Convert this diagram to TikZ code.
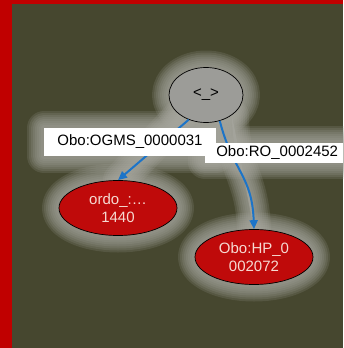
\documentclass[tikz,border=0pt]{standalone}
\usepackage{fontspec}
\setmainfont{Liberation Sans}
\usetikzlibrary{arrows.meta,shapes.geometric}
\definecolor{bgcol}{HTML}{46472F}
\definecolor{framecol}{HTML}{C00000}
\definecolor{halocol}{HTML}{A8A8A0}
\definecolor{rootfill}{HTML}{9C9C98}
\definecolor{leaffill}{HTML}{BF0A0A}
\definecolor{leaftext}{HTML}{F6DAD2}
\definecolor{edgecol}{HTML}{1C74C8}
\tikzset{
  halo/.style={draw=halocol, fill=halocol, line width=#1, opacity=0.17, line join=round, line cap=round},
  rootnode/.style={ellipse, draw=black, line width=0.7pt, fill=rootfill, minimum width=74pt, minimum height=55pt, inner sep=0pt, font=\fontsize{15}{16}\selectfont},
  leaf/.style={ellipse, draw=black, line width=0.7pt, fill=leaffill, minimum width=118pt, minimum height=55pt, inner sep=0pt, align=center, text=leaftext, font=\fontsize{15}{17.5}\selectfont},
  lbl/.style={rectangle, fill=white, inner sep=0pt, text=black, font=\fontsize{15}{16}\selectfont},
  edge/.style={draw=edgecol, line width=2pt, -{Triangle[length=9pt,width=8pt]}},
}
\begin{document}
\begin{tikzpicture}[x=1pt,y=-1pt]
\useasboundingbox (0,0) rectangle (343,348);
\fill[framecol] (0,0) rectangle (343,348);
\fill[bgcol] (12,4) rectangle (343,348);
% halos
\foreach \w in {34,30,26,22,18,14,10,6}{
  \path[halo=\w pt] (206,95) ellipse (37 and 27.5);
  \path[halo=\w pt] (118,208) ellipse (59 and 27.5);
  \path[halo=\w pt] (254,257) ellipse (59 and 27.5);
  \path[halo=\w pt] (44,128) rectangle (216,156);
  \path[halo=\w pt] (205,143) rectangle (342,162);
  \path[halo=\w pt] (232,116) .. controls (233,172) and (252,175) .. (254,229);
  \path[halo=\w pt] (180,116) -- (120,180);
}
% nodes
\node[rootnode] (root) at (206,95) {<\_>};
\node[leaf] (ordo) at (118,208) {ordo\_:…\\1440};
\node[leaf] (hp) at (254,257) {Obo:HP\_0\\002072};
% edges
\draw[edge] (root.-125) -- (ordo.north);
\draw[edge] (root.-62) .. controls (233,172) and (252,175) .. (hp.north);
% labels
\node[lbl, minimum width=172pt, minimum height=28pt] (l1) at (130,142) {Obo:OGMS\_0000031};
\node[lbl, minimum width=138pt, minimum height=20pt, anchor=west] (l2) at (205,152.5) {\hspace{6pt}Obo:RO\_0002452\hfill};
\end{tikzpicture}
\end{document}
